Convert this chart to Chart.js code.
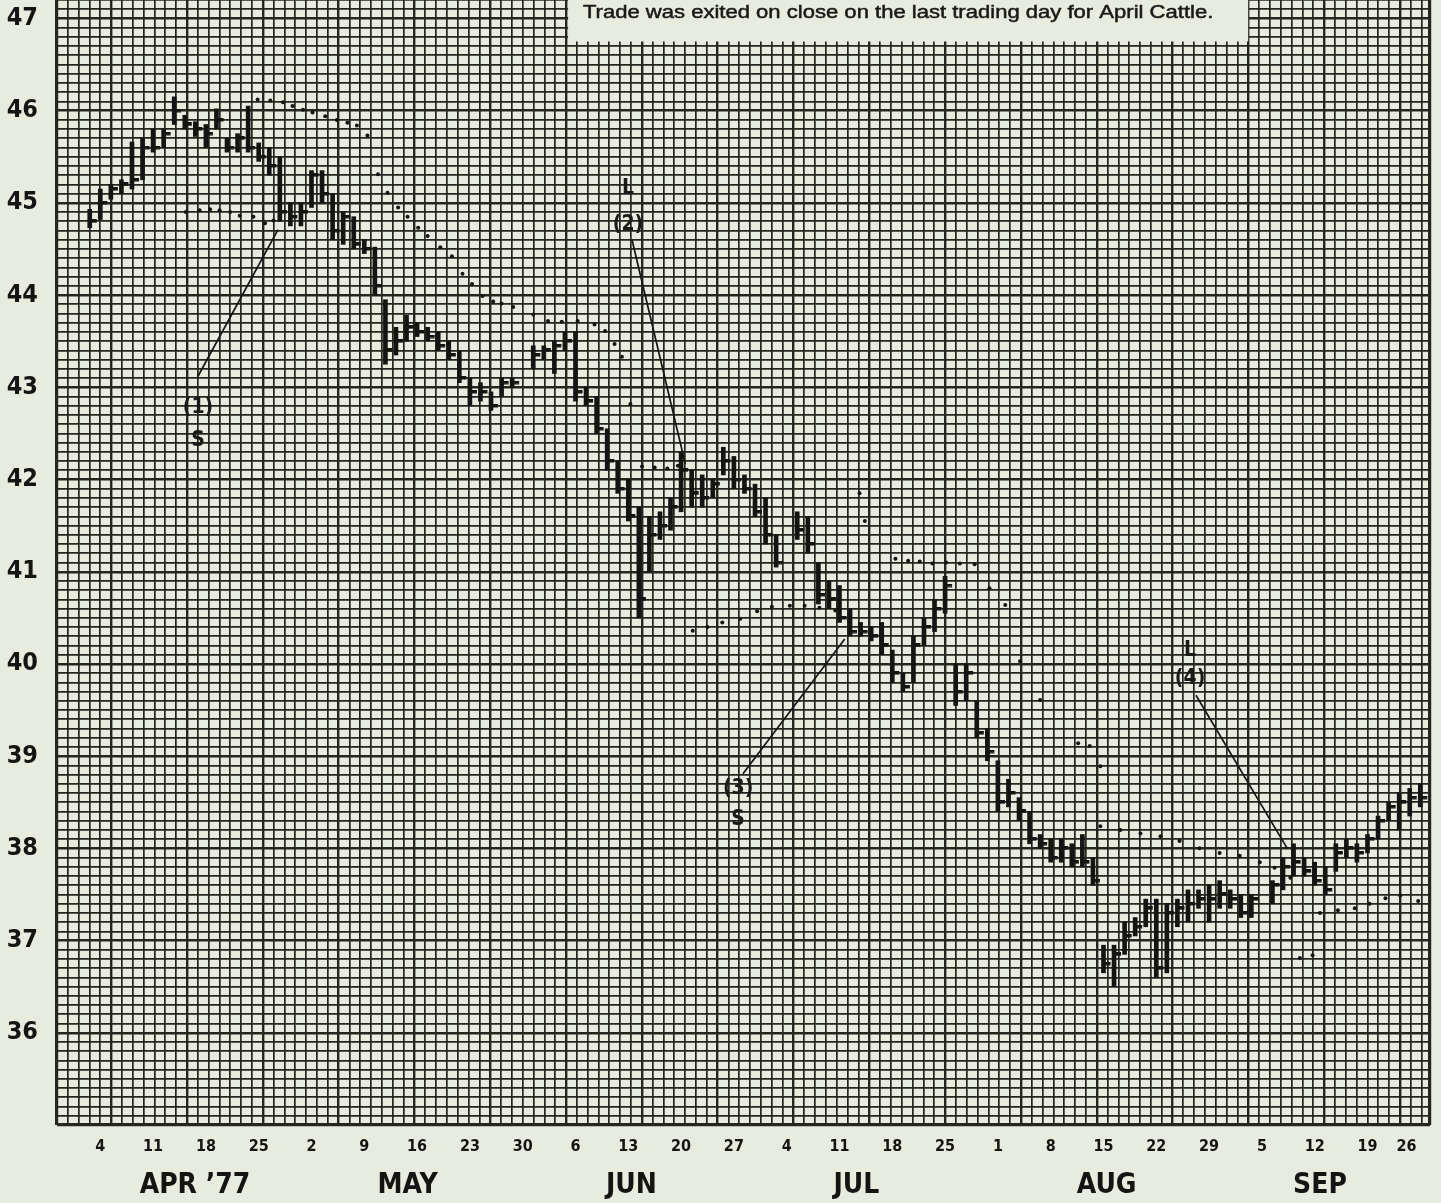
<!DOCTYPE html>
<html><head><meta charset="utf-8">
<script src="https://cdn.jsdelivr.net/npm/chart.js@4.4.0/dist/chart.umd.min.js"></script>
<style>
html,body{margin:0;padding:0;background:#e8ecdf;}
canvas{display:block;}
</style></head><body>
<canvas id="c" width="1441" height="1203"></canvas>
<script>
// ---- trading day index (0 = Mon Apr 4 1977), holidays omitted ----
const dayIdx = [-1,0,1,2,3,4,5,6,7,8,9,10,11,12,13,14,15,16,17,18,19,
 20,21,22,23,24,25,26,27,28,29,30,31,32,33,34,35,36,37,38,39,
 41,42,43,44,45,46,47,48,49,50,51,52,53,54,55,56,57,58,59,
 60,61,62,63,64,66,67,68,69,70,71,72,73,74,75,76,77,78,79,80,81,82,83,84,
 85,86,87,88,89,90,91,92,93,94,95,96,97,98,99,100,101,102,103,104,105,106,107,108,109,
 111,112,113,114,115,116,117,118,119,120,121,122,123,124,125];
const highs = [44.93,45.15,45.20,45.25,45.66,45.70,45.80,45.80,46.15,45.95,45.88,45.85,46.02,45.70,45.75,46.05,45.65,45.60,45.50,45.00,45.00,
 45.35,45.35,45.10,44.90,44.85,44.60,44.52,43.95,43.65,43.78,43.70,43.65,43.60,43.50,43.40,43.10,43.05,42.95,43.10,43.10,
 43.45,43.45,43.50,43.60,43.60,43.00,42.90,42.55,42.20,42.00,41.70,41.60,41.65,41.80,42.30,42.10,42.05,42.00,42.35,
 42.25,42.05,41.95,41.80,41.40,41.65,41.60,41.10,40.90,40.85,40.60,40.45,40.40,40.45,40.15,39.90,40.30,40.50,40.70,40.95,40.00,40.00,39.60,39.30,
 38.95,38.75,38.55,38.40,38.15,38.10,38.10,38.05,38.15,37.90,36.95,36.95,37.20,37.25,37.45,37.45,37.40,37.45,37.55,37.55,37.60,37.65,37.55,37.50,37.50,
 37.65,37.90,38.05,37.90,37.85,37.80,38.05,38.10,38.05,38.15,38.35,38.50,38.60,38.65,38.70];
const lows = [44.73,44.82,45.04,45.10,45.15,45.25,45.55,45.60,45.85,45.80,45.72,45.60,45.80,45.55,45.55,45.55,45.45,45.30,44.80,44.75,44.75,
 44.95,45.00,44.60,44.55,44.50,44.45,44.00,43.25,43.35,43.50,43.55,43.50,43.40,43.30,43.05,42.80,42.85,42.75,42.90,43.00,
 43.20,43.30,43.15,43.40,42.85,42.80,42.50,42.10,41.85,41.55,40.50,41.00,41.35,41.45,41.65,41.70,41.70,41.80,42.05,
 41.90,41.85,41.60,41.30,41.05,41.35,41.20,40.65,40.60,40.45,40.30,40.30,40.25,40.10,39.80,39.70,39.80,40.20,40.35,40.55,39.55,39.60,39.20,38.95,
 38.40,38.45,38.30,38.05,38.00,37.85,37.85,37.80,37.80,37.60,36.65,36.50,36.85,37.05,37.15,36.60,36.65,37.15,37.20,37.35,37.20,37.35,37.35,37.25,37.25,
 37.40,37.55,37.70,37.70,37.60,37.50,37.75,37.90,37.85,37.95,38.10,38.30,38.20,38.35,38.45];
const closes = [44.80,45.00,45.15,45.20,45.25,45.60,45.60,45.75,46.00,45.85,45.80,45.75,45.90,45.60,45.70,45.60,45.50,45.40,44.90,44.85,44.90,
 45.30,45.10,44.70,44.85,44.55,44.50,44.10,43.40,43.50,43.65,43.60,43.55,43.45,43.35,43.10,42.95,42.95,42.80,43.05,43.05,
 43.35,43.40,43.45,43.50,42.95,42.85,42.55,42.20,41.90,41.60,40.70,41.40,41.50,41.70,42.10,41.85,41.80,41.95,42.20,
 42.00,41.90,41.65,41.40,41.10,41.45,41.30,40.75,40.70,40.50,40.35,40.35,40.30,40.20,39.90,39.75,40.20,40.40,40.60,40.85,39.70,39.90,39.25,39.05,
 38.50,38.60,38.40,38.10,38.05,37.90,38.00,37.85,37.85,37.65,36.75,36.85,37.05,37.15,37.35,36.70,37.30,37.35,37.40,37.45,37.45,37.50,37.45,37.30,37.45,
 37.60,37.80,37.85,37.75,37.65,37.55,37.95,38.00,37.95,38.10,38.30,38.45,38.50,38.55,38.55];

// ---- dotted stop lines: [dayIndex, price] ----
const stopA = [[14.9,46.12],[16.1,46.11],[17.3,46.09],[18.2,46.05],[19.2,46.01],[20.1,45.98],[21.3,45.94],[22.4,45.90],[23.4,45.87],[24.3,45.84],[25.3,45.73],
 [26.3,45.31],[27.2,45.11],[28.2,44.95],[29.1,44.85],[30.1,44.73],[31.0,44.64],[32.2,44.52],[33.3,44.42],[34.3,44.23],[35.2,44.12],[36.2,43.99],[37.2,43.93],
 [38.0,43.91],[39.1,43.87],[41.0,43.79],[42.4,43.72],[43.7,43.71],[45.2,43.72],[46.8,43.68],[47.8,43.61],[48.7,43.47],[49.4,43.33],[50.2,42.82]];
const stopB = [[8.1,44.90],[9.4,44.92],[10.4,44.93],[11.3,44.92],[12.3,44.90],[13.2,44.86],[14.5,44.85],[15.6,44.78],[16.4,44.81]];
const stopC = [[51.3,42.14],[52.5,42.13],[53.7,42.12],[54.7,42.15]];
const stopD = [[56.1,40.36],[57.5,40.40],[58.9,40.45],[60.6,40.49],[62.2,40.57],[63.6,40.62],[65.3,40.63],[66.7,40.63],[68.1,40.61],[69.6,40.58]];
const stopE = [[71.9,41.85],[72.4,41.55],[75.3,41.14],[76.5,41.12],[77.6,41.11],[78.8,41.09],[80.1,41.10],[81.4,41.09],[82.8,41.08],[84.2,40.82],
 [85.7,40.64],[87.1,40.03],[89.0,39.61],[92.6,39.14],[93.7,39.11],[94.7,38.89]];
const stopF = [[94.7,38.24],[96.6,38.20],[98.5,38.16],[100.4,38.13],[102.2,38.08],[104.1,38.00],[106.0,37.95],[107.9,37.92],[109.8,37.85],[111.2,37.79],
 [112.7,37.68],[113.6,36.81],[114.8,36.84],[115.5,37.30],[117.2,37.33],[118.8,37.35],[120.2,37.40],[121.7,37.46],[123.1,37.49],[124.8,37.43]];

// ---- trade signal pointer lines and labels ----
const signalLines = [
  [[9.25,43.12],[16.83,44.71]],
  [[50.35,44.60],[55.4,42.17]],
  [[60.86,38.81],[70.5,40.27]],
  [[103.76,39.66],[112.4,38.00]]
];
const signalText = [
  ['(1)',9.25,42.78],['S',9.25,42.42],
  ['L',49.97,45.15],['(2)',49.97,44.77],
  ['(3)',60.4,38.65],['S',60.4,38.31],
  ['L',103.2,40.15],['(4)',103.2,39.84]
];

// ---- axis labels ----
const yLabelValues = [36,37,38,39,40,41,42,43,44,45,46,47];
const dayLabels = ['4','11','18','25','2','9','16','23','30','6','13','20','27','4','11','18','25','1','8','15','22','29','5','12','19','26'];
const dayLabelPos = [0,5,10,15,20,25,30,35,40,45,50,55,60,65,70,75,80,85,90,95,100,105,110,115,120,123.7];
const monthLabels = ["APR \u201977",'MAY','JUN','JUL','AUG','SEP'];
const monthLabelPos = [8.97,29.1,50.3,71.6,95.3,115.5];
const noteText = 'Trade was exited on close on the last trading day for April Cattle.';

const xMin = -4.1, xMax = 125.92, yMin = 35.0, yMax = 47.2;
const paperStepX = 1.0256;           // graph paper column width (in day units)
const INK = '#141410', GRID = '#262620', BG = '#e8ecdf';
const FONT = "'Liberation Sans Narrow','DejaVu Sans Condensed','Liberation Sans',sans-serif";

const paperX = [];
for (let j = 0; xMin + paperStepX*j < xMax - 0.3; j++) paperX.push(xMin + paperStepX*j);
paperX.push(xMax);
const paperY = [];
for (let k = 350; k <= 472; k++) paperY.push(k/10);

// close tick glyph (extends to the right of the bar)
const tick = document.createElement('canvas');
tick.width = 16; tick.height = 4;
{ const g = tick.getContext('2d'); g.fillStyle = INK; g.fillRect(8,0,7,3.5); }

const dotStyle = {type:'scatter', showLine:false, pointRadius:2, pointBackgroundColor:INK, pointBorderWidth:0};
const toPts = arr => arr.map(p => ({x:p[0], y:p[1]}));

const datasets = [
  {type:'bar', data: dayIdx.map((d,i)=>({x:d, y:[lows[i], highs[i]]})), backgroundColor:INK, barThickness:4, borderWidth:0},
  {type:'scatter', data: dayIdx.map((d,i)=>({x:d, y:closes[i]})), pointStyle:tick, pointRadius:8},
];
[stopA,stopB,stopC,stopD,stopE,stopF].forEach(s => datasets.push(Object.assign({data:toPts(s)}, dotStyle)));
signalLines.forEach(s => datasets.push({type:'line', data:toPts(s), borderColor:INK, borderWidth:1.7, pointRadius:0, fill:false}));

const overlay = {
  id:'overlay',
  afterDatasetsDraw(chart){
    const {ctx, scales:{x, y}} = chart;
    ctx.save();
    // note box
    const bx0 = x.getPixelForValue(44.3), bx1 = x.getPixelForValue(108.7);
    const by1 = y.getPixelForValue(46.75);
    ctx.fillStyle = BG;
    ctx.fillRect(bx0, 0, bx1-bx0, by1);
    ctx.fillStyle = '#1a1a16'; ctx.strokeStyle = '#1a1a16'; ctx.lineWidth = 0.5;
    ctx.font = "18px 'Liberation Sans',Arial,sans-serif";
    ctx.textAlign = 'center'; ctx.textBaseline = 'middle';
    const tx0 = x.getPixelForValue(45.7), tx1 = x.getPixelForValue(105.4);
    const w = ctx.measureText(noteText).width;
    ctx.translate((tx0+tx1)/2, y.getPixelForValue(47.06));
    ctx.scale((tx1-tx0)/w, 1);
    ctx.fillText(noteText, 0, 0);
    ctx.strokeText(noteText, 0, 0);
    ctx.restore();
    ctx.save();
    // signal labels
    ctx.fillStyle = '#1a1a16';
    ctx.textAlign = 'center'; ctx.textBaseline = 'middle';
    ctx.font = "bold 21px " + FONT;
    signalText.forEach(t => ctx.fillText(t[0], x.getPixelForValue(t[1]), y.getPixelForValue(t[2])));
    ctx.restore();
  }
};

const axisFont = (size) => ({family:FONT, size:size, weight:'bold'});

new Chart(document.getElementById('c'), {
  type:'bar',
  data:{datasets},
  options:{
    responsive:false, animation:false, events:[],
    layout:{autoPadding:false, padding:{left:0, right:11, top:0, bottom:0}},
    plugins:{legend:{display:false}, tooltip:{enabled:false}},
    scales:{
      x:{type:'linear', min:xMin, max:xMax, offset:false, position:'bottom', weight:0,
        grid:{offset:false, drawTicks:false, color:GRID,
          lineWidth: c => { const j = c.index; return (j===0 || j===paperX.length-1) ? 3.2 : ((j-5)%7===0 ? 2.4 : 1.7); }},
        border:{display:false},
        ticks:{display:false},
        afterBuildTicks: s => { s.ticks = paperX.map(v=>({value:v})); },
        afterFit: s => { s.height = 0; s.paddingLeft = 0; s.paddingRight = 0; }
      },
      xd:{type:'linear', min:xMin, max:xMax, offset:false, position:'bottom', weight:1,
        grid:{display:false, drawTicks:false}, border:{display:false},
        ticks:{autoSkip:false, maxRotation:0, padding:12, color:INK, font:axisFont(16),
          callback:(v,i)=>dayLabels[i]},
        afterBuildTicks: s => { s.ticks = dayLabelPos.map(v=>({value:v})); },
        afterFit: s => { s.height = 35; s.paddingLeft = 0; s.paddingRight = 0; }
      },
      xm:{type:'linear', min:xMin, max:xMax, offset:false, position:'bottom', weight:2,
        grid:{display:false, drawTicks:false}, border:{display:false},
        ticks:{autoSkip:false, maxRotation:0, padding:9, color:INK, font:axisFont(28),
          callback:(v,i)=>monthLabels[i]},
        afterBuildTicks: s => { s.ticks = monthLabelPos.map(v=>({value:v})); },
        afterFit: s => { s.height = 43; s.paddingLeft = 0; s.paddingRight = 0; }
      },
      y:{type:'linear', min:yMin, max:yMax, position:'left',
        grid:{drawTicks:false, color:GRID,
          lineWidth: c => { const v = Math.round(c.tick.value*10); return (v===350) ? 3.2 : ((v%10===0) ? 2.4 : 1.7); }},
        border:{display:false},
        ticks:{autoSkip:false, padding:19, color:INK, font:axisFont(25),
          callback:(v)=>{ const r = Math.round(v*10)/10; return yLabelValues.includes(r) ? String(r) : ''; }},
        afterBuildTicks: s => { s.ticks = paperY.map(v=>({value:v})); },
        afterFit: s => { s.width = 57; s.paddingTop = 0; s.paddingBottom = 0; }
      }
    }
  },
  plugins:[overlay]
});
</script>
</body></html>
